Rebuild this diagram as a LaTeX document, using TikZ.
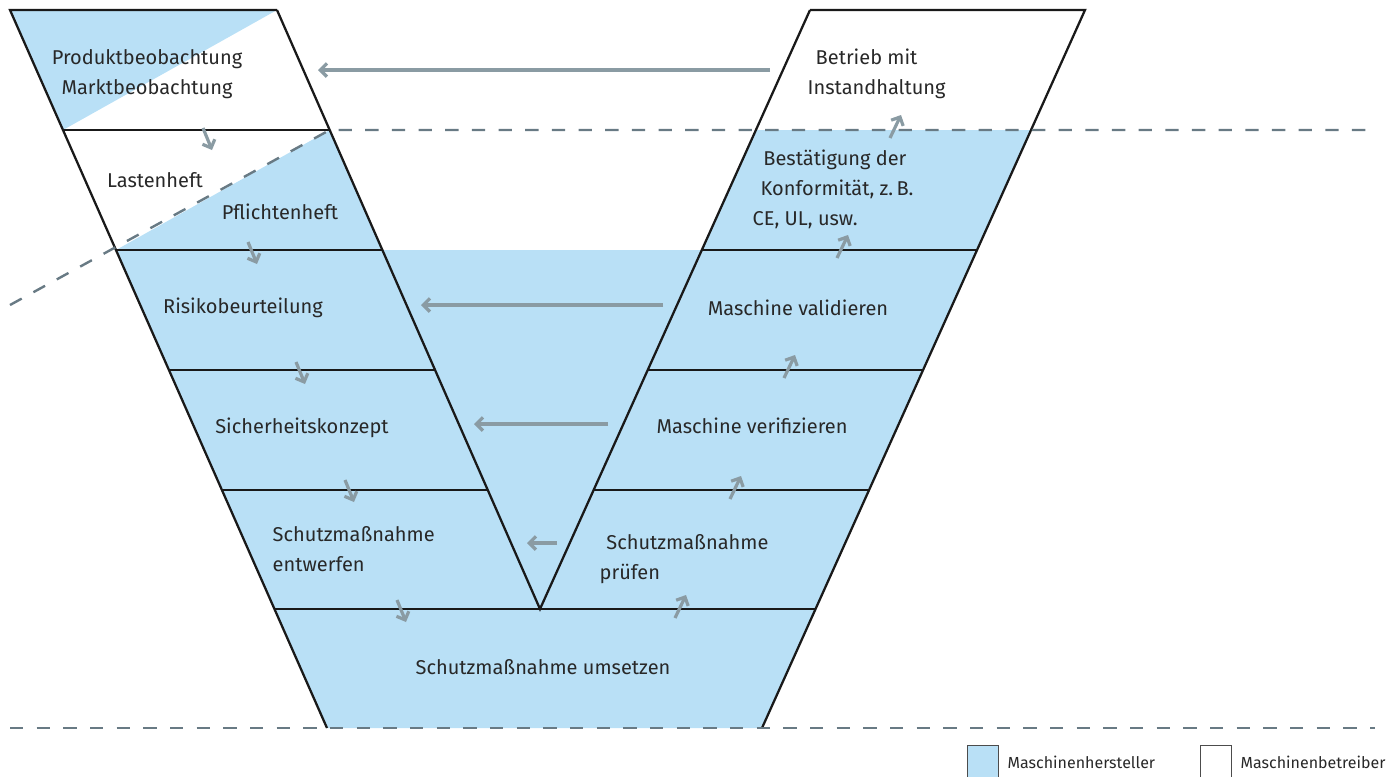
\documentclass[tikz,border=0pt]{standalone}
\usepackage{fontspec}
\setmainfont{Fira Sans}
\usetikzlibrary{arrows.meta}
\definecolor{herstblau}{RGB}{185,224,246}
\definecolor{pfeilgrau}{RGB}{138,155,163}
\definecolor{strichgrau}{RGB}{104,122,132}
\definecolor{textgrau}{RGB}{40,40,40}
\tikzset{
  rand/.style={line width=1.7pt, black!90},
  grenze/.style={strichgrau, line width=1.8pt, dash pattern=on 10pt off 10pt},
  pfeil/.style={pfeilgrau, line width=2.4pt, -{Straight Barb[length=5pt,width=10pt]}},
  feld/.style={font=\fontsize{15}{22.5}\selectfont, text=textgrau},
  legende/.style={font=\fontsize{12}{14}\selectfont, text=textgrau, anchor=west},
}
\begin{document}
\begin{tikzpicture}[x=0.75pt, y=-0.75pt]
            \useasboundingbox (0,0) rectangle (1398,776);
            % blue areas (Maschinenhersteller)
            \fill[herstblau] (10,10) -- (277,10) -- (63,130) -- cycle;
            \fill[herstblau] (116,250) -- (329.7,130) -- (382.4,250) -- cycle;
            \fill[herstblau] (116,250) -- (327,728) -- (762,728) -- (1031,130) -- (755.9,130) -- (701.8,250) -- cycle;
            % V outline
            \draw[rand] (277,10) -- (10,10) -- (327,728);
            \draw[rand] (810,10) -- (1085,10) -- (762,728);
            \draw[rand] (277,10) -- (540,609) -- (810,10);
            \draw[rand] (63,130) -- (329.7,130);
            \draw[rand] (116,250) -- (382.4,250) (701.8,250) -- (977,250);
            \draw[rand] (169,370) -- (435.1,370) (647.7,370) -- (923,370);
            \draw[rand] (222,490) -- (487.8,490) (593.6,490) -- (869,490);
            \draw[rand] (274.5,609) -- (815.5,609);
            % dashed borders
            \draw[grenze] (10,305) -- (329.7,130) -- (1375,130);
            \draw[grenze] (10,728) -- (1375,728);
            % texts
            \node[feld, align=center] (produkt) at (147,74) {Produktbeobachtung\\Marktbeobachtung};
            \node[feld] (lasten) at (155,180) {Lastenheft};
            \node[feld] (pflichten) at (280,212) {Pflichtenheft};
            \node[feld] (risiko) at (243,308) {Risikobeurteilung};
            \node[feld] (konzept) at (302,428) {Sicherheitskonzept};
            \node[feld, align=left, anchor=west] (entwerfen) at (268,549) {Schutzmaßnahme\\entwerfen};
            \node[feld] (umsetzen) at (543,667) {Schutzmaßnahme umsetzen};
            \node[feld, align=left, anchor=west] (pruefen) at (595,559) {\hspace*{5pt}Schutzmaßnahme\\prüfen};
            \node[feld] (verifizieren) at (752,426) {Maschine verifizieren};
            \node[feld] (validieren) at (798,308) {Maschine validieren};
            \node[feld, align=left, anchor=west] (konform) at (748,189) {\hspace*{8pt}Bestätigung der\\\hspace*{6pt}Konformität, z.\,B.\\CE, UL, usw.};
            \node[feld, align=left, anchor=west] (betrieb) at (803,74) {\hspace*{6pt}Betrieb mit\\Instandhaltung};
            % feedback arrows
            \draw[pfeil] (770,70) -- (318,70);
            \draw[pfeil] (663,305) -- (421,305);
            \draw[pfeil] (608,424) -- (474,424);
            \draw[pfeil] (557,543) -- (527,543);
            % steps down
            \foreach \x/\y in {203/128, 248/242, 296/362, 345/480, 397/600}
              \draw[pfeil] (\x,\y) -- ++(9,22);
            % steps up
            \foreach \x/\y in {675/618, 730/499, 784/378, 837/258, 890/138}
              \draw[pfeil] (\x,\y) -- ++(11,-23);
            % legend
            \draw[black!70, fill=herstblau, line width=0.6pt] (967,745) rectangle (998,780);
            \node[legende] (hersteller) at (1003,762) {Maschinenhersteller};
            \draw[black!70, fill=white, line width=0.6pt] (1200,745) rectangle (1231,780);
            \node[legende] (betreiber) at (1236,762) {Maschinenbetreiber};
\end{tikzpicture}
\end{document}
